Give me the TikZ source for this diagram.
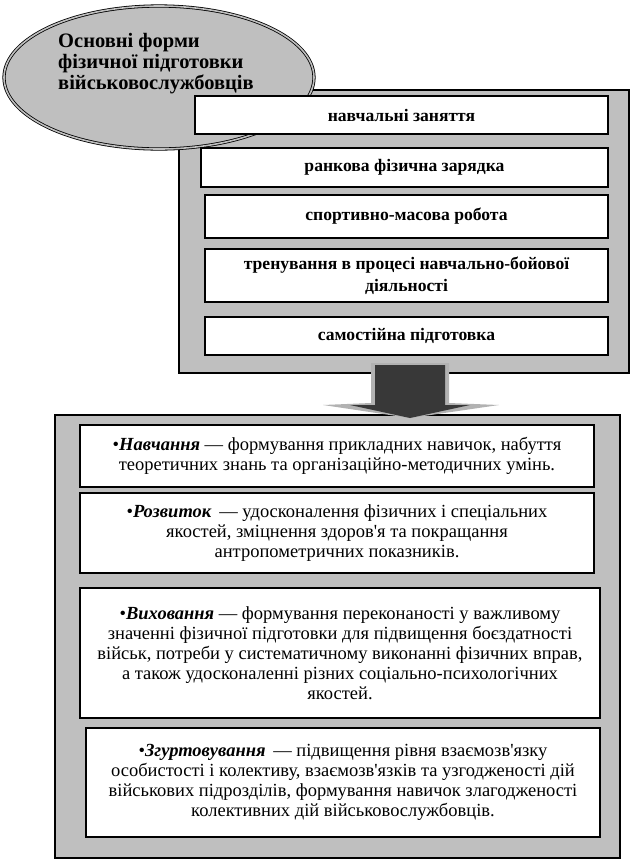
\documentclass[tikz,border=0pt]{standalone}
\usepackage{fontspec}
\setmainfont{Liberation Serif}
\usetikzlibrary{shapes.geometric}

\begin{document}
\begin{tikzpicture}[x={(1pt,0pt)}, y={(0pt,-1pt)},
  frame/.style={draw, line width=2.4pt, fill=black!25, inner sep=0pt},
  formbox/.style={draw, line width=2.4pt, fill=white, inner sep=0pt, align=center,
    font=\fontsize{17.6}{22}\selectfont\bfseries},
  taskbox/.style={draw, line width=2.4pt, fill=white, inner sep=0pt, align=center,
    font=\fontsize{18.5}{20}\selectfont}]
  \useasboundingbox (0,0) rectangle (634,860);
  % Upper frame and title
  \node[frame, minimum width=450pt, minimum height=283pt] (topframe) at (404,231.5) {};
  \node[ellipse, draw, fill=black!25, line width=0.8pt, double=black!25, double distance=1.6pt,
    minimum width=310pt, minimum height=143pt, inner sep=0pt] (title) at (159,77.5) {};
  \node[anchor=west, align=left, inner sep=0pt, font=\fontsize{20.5}{21}\selectfont\bfseries]
    (titletext) at (58,64) {Основні форми\\фізичної підготовки\\військовослужбовців};
  % Forms
  \node[formbox, minimum width=413pt, minimum height=38pt] (forma) at (401.5,115) {навчальні заняття};
  \node[formbox, minimum width=407pt, minimum height=39pt] (formb) at (404.5,167.5) {ранкова фізична зарядка};
  \node[formbox, minimum width=403pt, minimum height=43pt] (formc) at (406.5,216.5) {спортивно-масова робота};
  \node[formbox, minimum width=403pt, minimum height=53pt] (formd) at (406.5,275.5)
    {тренування в процесі навчально-бойової\\діяльності};
  \node[formbox, minimum width=403pt, minimum height=38pt] (forme) at (406.5,336) {самостійна підготовка};
  % Lower frame
  \node[frame, minimum width=565pt, minimum height=443pt] (bottomframe) at (337.5,636.5) {};
  % Tasks
  \node[taskbox, minimum width=514pt, minimum height=62pt] (taska) at (337,456)
    {•\textbf{\textit{Навчання}} — формування прикладних навичок, набуття\\
     теоретичних знань та організаційно-методичних умінь.};
  \node[taskbox, minimum width=514pt, minimum height=80pt] (taskb) at (337,533)
    {•\textbf{\textit{Розвиток}} \,— удосконалення фізичних і спеціальних\\
     якостей, зміцнення здоров\textquotesingle я та покращання\\антропометричних показників.};
  \node[taskbox, minimum width=520pt, minimum height=130pt] (taskc) at (340,653)
    {•\textbf{\textit{Виховання}} — формування переконаності у важливому\\
     значенні фізичної підготовки для підвищення боєздатності\\
     військ, потреби у систематичному виконанні фізичних вправ,\\
     а також удосконаленні різних соціально-психологічних\\якостей.};
  \node[taskbox, minimum width=514pt, minimum height=109pt] (taskd) at (343,782.5)
    {•\textbf{\textit{Згуртовування}} \,— підвищення рівня взаємозв\textquotesingle язку\\
     особистості і колективу, взаємозв\textquotesingle язків та узгодженості дій\\
     військових підрозділів, формування навичок злагодженості\\
     колективних дій військовослужбовців.};
  % Arrow
  \coordinate (arrowtip) at (410,418);
  \fill[black!30] (371,363) -- (449,363) -- (449,403) -- (499,405) -- (arrowtip)
    -- (323,405) -- (371,403) -- cycle;
  \fill[black!78] (375,365) -- (445,365) -- (445,405) -- (470,405) -- (arrowtip)
    -- (350,405) -- (375,405) -- cycle;
\end{tikzpicture}
\end{document}
